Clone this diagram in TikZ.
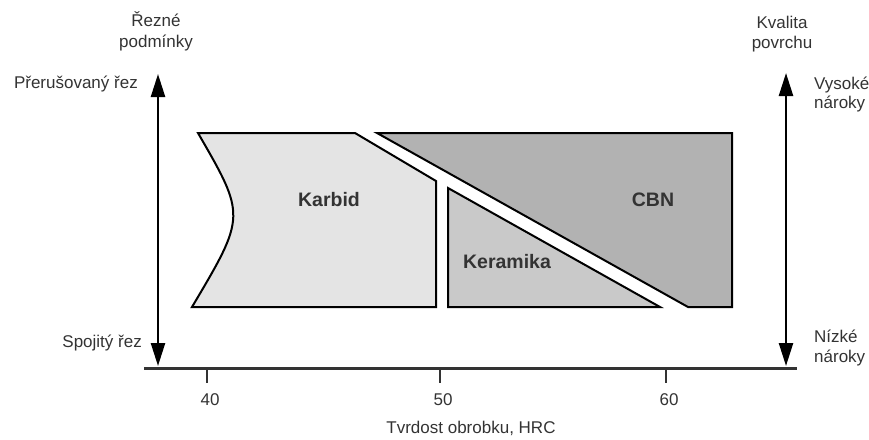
\documentclass[tikz,border=0pt]{standalone}
\usepackage{fontspec}
\setmainfont{Liberation Sans}
\usetikzlibrary{arrows.meta}
\definecolor{txt}{HTML}{333333}
\definecolor{karbidc}{HTML}{E4E4E4}
\definecolor{keramc}{HTML}{C9C9C9}
\definecolor{cbnc}{HTML}{B2B2B2}
\tikzset{
  lbl/.style={font=\fontsize{17}{20}\selectfont, text=txt, inner sep=0pt},
  reg/.style={font=\fontsize{19.5}{22}\selectfont\bfseries, text=txt, inner sep=0pt, anchor=base},
  zone/.style={draw=black, line width=2pt, line join=miter},
  vaxis/.style={line width=2.4pt, -{Triangle[length=23pt,width=14pt]}},
  haxis/.style={draw=txt, line width=3pt},
  tick/.style={draw=txt, line width=2.5pt}
}
\begin{document}
\begin{tikzpicture}[x=1pt,y=-1pt]
\useasboundingbox (0,0) rectangle (869,439);
% regions
\filldraw[zone, fill=karbidc] (198,133) -- (355,133) -- (436,181) -- (436,307) -- (192,307) .. controls (246,216) and (246,216) .. (198,133) -- cycle;
\filldraw[zone, fill=cbnc] (377,133) -- (732,133) -- (732,307) -- (688,307) -- cycle;
\filldraw[zone, fill=keramc] (448,188) -- (448,307) -- (660,307) -- cycle;
\node[reg] (karbid) at (329,206) {Karbid};
\node[reg] (cbn) at (653,206) {CBN};
\node[reg] (keram) at (507,268) {Keramika};
% axis
\coordinate (ax0) at (144,368);
\coordinate (ax1) at (797,368);
\draw[haxis] (ax0) -- (ax1);
\foreach \x/\v in {207/40, 440/50, 666/60} {
  \coordinate (t\v) at (\x,368);
  \coordinate (tb\v) at (\x,383);
  \draw[tick] (t\v) -- (tb\v);
  \node[lbl, anchor=base] (n\v) at (\x+3,405) {\v};
}
\node[lbl, anchor=base] (xlabel) at (471,433) {Tvrdost obrobku, HRC};
% left vertical arrows
\coordinate (lmid) at (158,220);
\coordinate (ltop) at (158,74);
\coordinate (lbot) at (158,366);
\draw[vaxis] (lmid) -- (ltop);
\draw[vaxis] (lmid) -- (lbot);
% right vertical arrows
\coordinate (rmid) at (786,220);
\coordinate (rtop) at (786,73);
\coordinate (rbot) at (786,366);
\draw[vaxis] (rmid) -- (rtop);
\draw[vaxis] (rmid) -- (rbot);
% labels
\node[lbl, anchor=base] (rez1) at (156,27) {Řezné};
\node[lbl, anchor=base] (rez2) at (156,47) {podmínky};
\node[lbl, anchor=base] (kv1) at (782,28) {Kvalita};
\node[lbl, anchor=base] (kv2) at (782,48) {povrchu};
\node[lbl, anchor=base east] (prer) at (138,88) {Přerušovaný řez};
\node[lbl, anchor=base east] (spoj) at (142,347) {Spojitý řez};
\node[lbl, anchor=base west] (vys1) at (814,89) {Vysoké};
\node[lbl, anchor=base west] (vys2) at (814,108) {nároky};
\node[lbl, anchor=base west] (niz1) at (814,342) {Nízké};
\node[lbl, anchor=base west] (niz2) at (814,362) {nároky};
\end{tikzpicture}
\end{document}
